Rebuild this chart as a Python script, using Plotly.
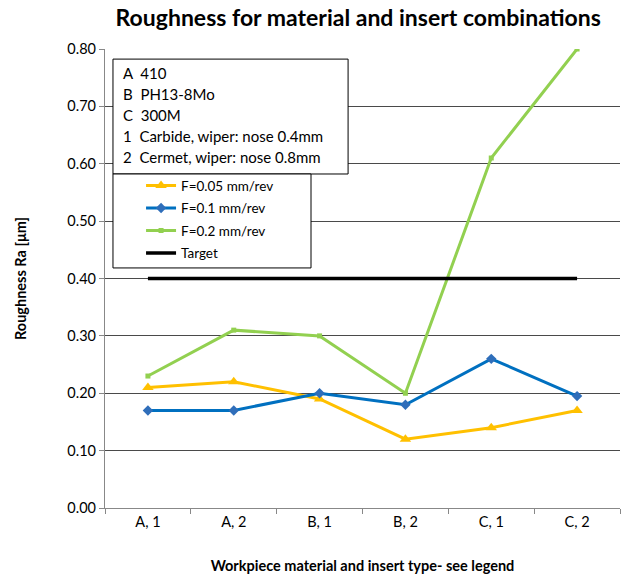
import plotly.graph_objects as go

categories = ["A, 1", "A, 2", "B, 1", "B, 2", "C, 1", "C, 2"]
f005 = [0.21, 0.22, 0.19, 0.12, 0.14, 0.17]
f01 = [0.17, 0.17, 0.20, 0.18, 0.26, 0.195]
f02 = [0.23, 0.31, 0.30, 0.20, 0.61, 0.80]
target = [0.40, 0.40, 0.40, 0.40, 0.40, 0.40]
y_ticks = [0.0, 0.1, 0.2, 0.3, 0.4, 0.5, 0.6, 0.7, 0.8]
key_lines = ["A&nbsp;&nbsp;410", "B&nbsp;&nbsp;PH13-8Mo", "C&nbsp;&nbsp;300M",
             "1&nbsp;&nbsp;Carbide, wiper: nose 0.4mm",
             "2&nbsp;&nbsp;Cermet, wiper: nose 0.8mm"]

FONT = "Lato, 'Open Sans', sans-serif"

fig = go.Figure()
fig.add_trace(go.Scatter(x=categories, y=f005, name="F=0.05 mm/rev", mode="lines+markers",
                         legendgroup="a",
                         line=dict(color="#FFC000", width=3),
                         marker=dict(symbol="triangle-up", size=10, color="#FFC000")))
fig.add_trace(go.Scatter(x=categories, y=f01, name="F=0.1 mm/rev", mode="lines+markers",
                         legendgroup="b",
                         line=dict(color="#0070C0", width=3),
                         marker=dict(symbol="diamond", size=8, color="#2F6EBA")))
fig.add_trace(go.Scatter(x=categories, y=f02, name="F=0.2 mm/rev", mode="lines+markers",
                         legendgroup="c",
                         line=dict(color="#92D050", width=3),
                         marker=dict(symbol="square", size=5, color="#92D050")))
fig.add_trace(go.Scatter(x=categories, y=target, name="Target", mode="lines",
                         legendgroup="d",
                         line=dict(color="black", width=3.5)))

fig.update_layout(
    width=624, height=579,
    margin=dict(l=105, r=4, t=49, b=71),
    paper_bgcolor="white", plot_bgcolor="white",
    font=dict(family=FONT, size=13, color="black"),
    title=dict(text="<b>Roughness for material and insert combinations</b>",
               x=0.574, xref="container", xanchor="center", y=0.969, yanchor="middle",
               font=dict(size=23, family=FONT)),
    showlegend=True,
    legend=dict(x=0.07, y=0.736, xanchor="left", yanchor="top",
                borderwidth=0, bgcolor="rgba(0,0,0,0)",
                font=dict(size=13.5, family=FONT), itemwidth=30,
                tracegroupgap=2),
    xaxis=dict(type="category", range=[-0.5, 5.5], showgrid=False, automargin=False,
               showline=True, linecolor="#888888", linewidth=1.2,
               ticks="outside", tickson="boundaries", ticklen=5, tickcolor="#888888",
               tickfont=dict(size=14.5),
               title=dict(text="<b>Workpiece material and insert type- see legend</b>",
                          font=dict(size=14.5), standoff=32)),
    yaxis=dict(range=[0, 0.8], tickvals=y_ticks, tickformat=".2f", automargin=False,
               showgrid=True, gridcolor="#4a4a4a", gridwidth=1.3,
               showline=True, linecolor="#888888", linewidth=1.2,
               ticks="outside", ticklen=5, tickcolor="#888888",
               zeroline=False, tickfont=dict(size=14.5),
               title=dict(text="<b>Roughness Ra [μm]</b>", font=dict(size=14.5), standoff=37)),
)

# key box
fig.add_shape(type="rect", xref="paper", yref="paper",
              x0=0.0155, x1=0.472, y0=0.7277, y1=0.978,
              line=dict(color="black", width=1), fillcolor="white", layer="above")
# legend frame
fig.add_shape(type="rect", xref="paper", yref="paper",
              x0=0.0155, x1=0.40, y0=0.523, y1=0.7277,
              line=dict(color="black", width=1), fillcolor="white", layer="above")
for i, t in enumerate(key_lines):
    fig.add_annotation(text=t, xref="paper", yref="paper", x=0.031, y=0.948 - i * 0.0458,
                       xanchor="left", yanchor="middle", showarrow=False,
                       font=dict(size=15, family=FONT))

fig.write_html("out.html", config={"displayModeBar": False},
               post_script="document.body.style.margin='0';document.body.style.padding='0';")
